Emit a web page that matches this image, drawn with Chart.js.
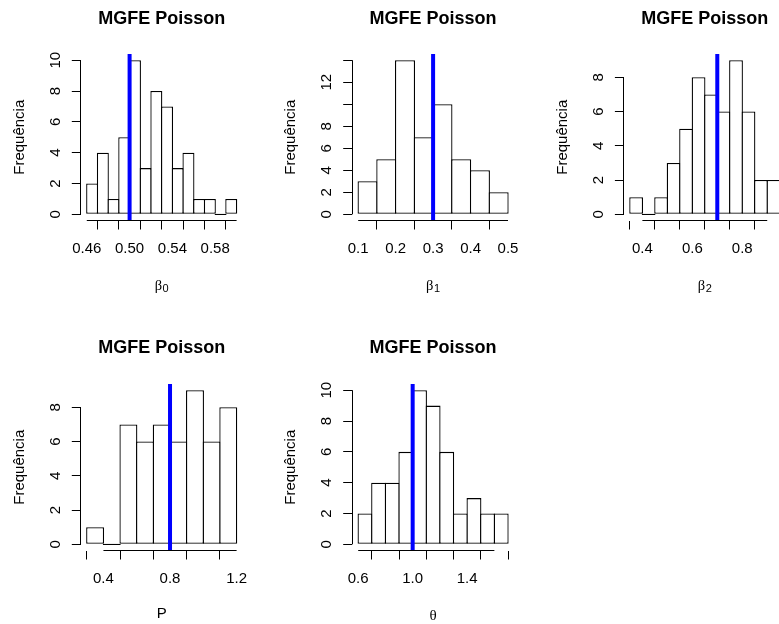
<!DOCTYPE html>
<html>
<head>
<meta charset="utf-8">
<script src="https://cdn.jsdelivr.net/npm/chart.js@4.4.0/dist/chart.umd.min.js"></script>
<style>
html,body{margin:0;padding:0;background:#fff;}
#wrap{position:relative;width:779px;height:624px;overflow:hidden;background:#fff;}
#wrap canvas{position:absolute;left:0;top:0;}
</style>
</head>
<body>
<div id="wrap"></div>
<script>
// ---------- data ----------
// beta0
const b0Breaks = [0.46,0.47,0.48,0.49,0.50,0.51,0.52,0.53,0.54,0.55,0.56,0.57,0.58,0.59,0.60];
const b0Counts = [2,4,1,5,10,3,8,7,3,4,1,1,0,1];
const b0True = 0.50;
const b0XTicks = [0.46,0.48,0.50,0.52,0.54,0.56,0.58,0.60];
const b0XLabels = ['0.46','','0.50','','0.54','','0.58',''];
const b0YTicks = [0,2,4,6,8,10];
const b0YLabels = ['0','2','4','6','8','10'];

// beta1
const b1Breaks = [0.10,0.15,0.20,0.25,0.30,0.35,0.40,0.45,0.50];
const b1Counts = [3,5,14,7,10,5,4,2];
const b1True = 0.30;
const b1XTicks = [0.1,0.2,0.3,0.4,0.5];
const b1XLabels = ['0.1','0.2','0.3','0.4','0.5'];
const b1YTicks = [0,2,4,6,8,10,12,14];
const b1YLabels = ['0','2','4','6','8','','12',''];

// beta2
const b2Breaks = [0.35,0.40,0.45,0.50,0.55,0.60,0.65,0.70,0.75,0.80,0.85,0.90,0.95];
const b2Counts = [1,0,1,3,5,8,7,6,9,6,2,2];
const b2True = 0.70;
const b2XTicks = [0.4,0.5,0.6,0.7,0.8,0.9];
const b2XLabels = ['0.4','','0.6','','0.8',''];
const b2YTicks = [0,2,4,6,8];
const b2YLabels = ['0','2','4','6','8'];

// P
const pBreaks = [0.3,0.4,0.5,0.6,0.7,0.8,0.9,1.0,1.1,1.2];
const pCounts = [1,0,7,6,7,6,9,6,8];
const pTrue = 0.8;
const pXTicks = [0.4,0.6,0.8,1.0,1.2];
const pXLabels = ['0.4','','0.8','','1.2'];
const pYTicks = [0,2,4,6,8];
const pYLabels = ['0','2','4','6','8'];

// theta
const thBreaks = [0.6,0.7,0.8,0.9,1.0,1.1,1.2,1.3,1.4,1.5,1.6,1.7];
const thCounts = [2,4,4,6,10,9,6,2,3,2,2];
const thTrue = 1.0;
const thXTicks = [0.6,0.8,1.0,1.2,1.4,1.6];
const thXLabels = ['0.6','','1.0','','1.4',''];
const thYTicks = [0,2,4,6,8,10];
const thYLabels = ['0','2','4','6','8','10'];

const mainTitle = 'MGFE Poisson';
const yTitle = 'Frequência';

// ---------- layout ----------
const CW = 820, CH = 624;
const COLS = [80.8, 352.2, 623.9];
const ROWS = [54, 384];
const PW = 161.8, PH = 166.5;
const TITLE_Y = [19.5, 348.5];
const YW = 70, XH = 72;
const BW = 1.3;
const SANS = '"Liberation Sans", Arial, Helvetica, sans-serif';
const SERIF = '"Liberation Serif", "DejaVu Serif", "Times New Roman", serif';

const panels = [
  {col:0,row:0,breaks:b0Breaks,counts:b0Counts,trueVal:b0True,xTicks:b0XTicks,xLabels:b0XLabels,yTicks:b0YTicks,yLabels:b0YLabels,xTitle:'β',xSub:'0',greek:true},
  {col:1,row:0,breaks:b1Breaks,counts:b1Counts,trueVal:b1True,xTicks:b1XTicks,xLabels:b1XLabels,yTicks:b1YTicks,yLabels:b1YLabels,xTitle:'β',xSub:'1',greek:true},
  {col:2,row:0,breaks:b2Breaks,counts:b2Counts,trueVal:b2True,xTicks:b2XTicks,xLabels:b2XLabels,yTicks:b2YTicks,yLabels:b2YLabels,xTitle:'β',xSub:'2',greek:true},
  {col:0,row:1,breaks:pBreaks,counts:pCounts,trueVal:pTrue,xTicks:pXTicks,xLabels:pXLabels,yTicks:pYTicks,yLabels:pYLabels,xTitle:'P',xSub:'',greek:false},
  {col:1,row:1,breaks:thBreaks,counts:thCounts,trueVal:thTrue,xTicks:thXTicks,xLabels:thXLabels,yTicks:thYTicks,yLabels:thYLabels,xTitle:'θ',xSub:'',greek:true}
];

function alignPx(p){ return Math.round(p - 0.5) + 0.5; }

const rAxes = {
  id: 'rAxes',
  afterDraw(chart, args, opts) {
    const p = opts.panel;
    const ctx = chart.ctx;
    const xs = chart.scales.x, ys = chart.scales.y;
    const ca = chart.chartArea;
    ctx.save();
    ctx.strokeStyle = '#000';
    ctx.lineWidth = 1;
    // x axis line (first to last tick)
    const yb = alignPx(ca.bottom);
    ctx.beginPath();
    ctx.moveTo(xs.getPixelForValue(p.xTicks[0]), yb);
    ctx.lineTo(xs.getPixelForValue(p.xTicks[p.xTicks.length-1]), yb);
    ctx.stroke();
    // y axis line
    const xl = alignPx(ca.left);
    ctx.beginPath();
    ctx.moveTo(xl, ys.getPixelForValue(p.yTicks[0]));
    ctx.lineTo(xl, ys.getPixelForValue(p.yTicks[p.yTicks.length-1]));
    ctx.stroke();
    // rotated y tick labels
    ctx.fillStyle = '#000';
    ctx.font = '15px ' + SANS;
    ctx.textAlign = 'center';
    ctx.textBaseline = 'middle';
    p.yTicks.forEach((v, i) => {
      const lab = p.yLabels[i];
      if (!lab) return;
      ctx.save();
      ctx.translate(ca.left - 25, ys.getPixelForValue(v));
      ctx.rotate(-Math.PI / 2);
      ctx.fillText(lab, 0, 0);
      ctx.restore();
    });
    // x title for greek symbols (plotmath style, with optional subscript)
    if (p.greek) {
      ctx.textBaseline = 'alphabetic';
      ctx.textAlign = 'left';
      const mainFont = (p.xSub ? '14.5px ' : '15px ') + SERIF;
      const subFont = '11px ' + SANS;
      ctx.font = mainFont;
      const w1 = ctx.measureText(p.xTitle).width;
      let w2 = 0;
      if (p.xSub) { ctx.font = subFont; w2 = ctx.measureText(p.xSub).width + 0.5; }
      const cx = (ca.left + ca.right) / 2;
      const x0 = cx - (w1 + w2) / 2;
      const base = ca.bottom + 69;
      ctx.font = mainFont;
      ctx.fillText(p.xTitle, x0, base);
      if (p.xSub) {
        ctx.font = subFont;
        ctx.fillText(p.xSub, x0 + w1 + 0.5, base + 2.2);
      }
    }
    ctx.restore();
  }
};

const wrap = document.getElementById('wrap');

panels.forEach(p => {
  const canvas = document.createElement('canvas');
  canvas.width = CW; canvas.height = CH;
  canvas.style.width = CW + 'px'; canvas.style.height = CH + 'px';
  wrap.appendChild(canvas);

  const PL = COLS[p.col], PT = ROWS[p.row];
  const PR = PL + PW, PB = PT + PH;
  const br = p.breaks;
  const dx = (br[br.length-1] - br[0]) * 0.04;
  const xmin = br[0] - dx, xmax = br[br.length-1] + dx;
  const ymaxData = Math.max(...p.counts);
  const dy = ymaxData * 0.04;
  const ymin = -dy, ymax = ymaxData + dy;
  const binPx = (br[1] - br[0]) * PW / (xmax - xmin);
  const ty = TITLE_Y[p.row];

  const barData = p.counts.map((c, i) => ({x: (br[i] + br[i+1]) / 2, y: c}));

  new Chart(canvas, {
    type: 'bar',
    data: {
      datasets: [
        {
          type: 'line',
          data: [{x: p.trueVal, y: ymin}, {x: p.trueVal, y: ymax}],
          borderColor: '#0000ff',
          borderWidth: 4,
          pointRadius: 0,
          borderCapStyle: 'butt',
          clip: 0,
          order: 0
        },
        {
          type: 'bar',
          data: barData,
          backgroundColor: '#ffffff',
          borderColor: '#000000',
          borderWidth: BW,
          borderSkipped: false,
          barPercentage: 1 + BW / binPx,
          categoryPercentage: 1,
          minBarLength: BW,
          inflateAmount: 0,
          order: 1
        }
      ]
    },
    options: {
      responsive: false,
      animation: false,
      devicePixelRatio: 1,
      events: [],
      layout: {
        padding: {left: PL - YW, right: CW - PR, top: ty - 10.8, bottom: CH - PB - XH}
      },
      plugins: {
        legend: {display: false},
        tooltip: {enabled: false},
        title: {
          display: true,
          text: mainTitle,
          fullSize: false,
          color: '#000',
          font: {family: SANS, size: 18, weight: 'bold', lineHeight: 1.2},
          padding: {top: 0, bottom: PT - ty - 10.8}
        },
        rAxes: {panel: p}
      },
      scales: {
        x: {
          type: 'linear',
          position: 'bottom',
          min: xmin, max: xmax,
          offset: false,
          bounds: 'data',
          afterBuildTicks: s => { s.ticks = p.xTicks.map(v => ({value: v})); },
          afterFit: s => { s.height = XH; },
          grid: {display: true, drawOnChartArea: false, drawTicks: true, tickLength: 9, color: '#000', lineWidth: 1},
          border: {display: false},
          ticks: {
            autoSkip: false, maxRotation: 0, minRotation: 0, padding: 10,
            color: '#000', font: {family: SANS, size: 15},
            callback: (v, i) => p.xLabels[i]
          },
          title: {display: !p.greek, text: p.xTitle, color: '#000', font: {family: SANS, size: 15}, padding: {top: 0, bottom: 0}}
        },
        y: {
          type: 'linear',
          position: 'left',
          min: ymin, max: ymax,
          bounds: 'data',
          afterBuildTicks: s => { s.ticks = p.yTicks.map(v => ({value: v})); },
          afterFit: s => { s.width = YW; },
          grid: {display: true, drawOnChartArea: false, drawTicks: true, tickLength: 9, color: '#000', lineWidth: 1},
          border: {display: false},
          ticks: {display: false},
          title: {display: true, text: yTitle, color: '#000', font: {family: SANS, size: 15}, padding: {top: 0, bottom: 0}}
        }
      }
    },
    plugins: [rAxes]
  });
});
</script>
</body>
</html>
